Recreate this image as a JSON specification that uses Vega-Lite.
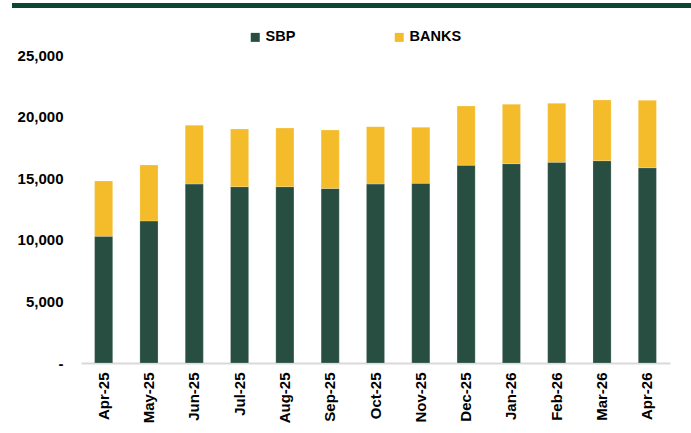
{
  "$schema": "https://vega.github.io/schema/vega-lite/v6.json",
  "width": 589,
  "height": 308,
  "autosize": "none",
  "padding": {"left": 81, "top": 55, "right": 21, "bottom": 70},
  "background": "white",
  "config": {"view": {"stroke": null}, "font": "Liberation Sans"},
  "data": {"values": [
    {"month": "Apr-25", "series": "SBP", "value": 10280},
    {"month": "May-25", "series": "SBP", "value": 11530},
    {"month": "Jun-25", "series": "SBP", "value": 14530},
    {"month": "Jul-25", "series": "SBP", "value": 14310},
    {"month": "Aug-25", "series": "SBP", "value": 14310},
    {"month": "Sep-25", "series": "SBP", "value": 14170},
    {"month": "Oct-25", "series": "SBP", "value": 14530},
    {"month": "Nov-25", "series": "SBP", "value": 14580},
    {"month": "Dec-25", "series": "SBP", "value": 16050},
    {"month": "Jan-26", "series": "SBP", "value": 16180},
    {"month": "Feb-26", "series": "SBP", "value": 16290},
    {"month": "Mar-26", "series": "SBP", "value": 16420},
    {"month": "Apr-26", "series": "SBP", "value": 15850},
    {"month": "Apr-25", "series": "BANKS", "value": 4490},
    {"month": "May-25", "series": "BANKS", "value": 4540},
    {"month": "Jun-25", "series": "BANKS", "value": 4760},
    {"month": "Jul-25", "series": "BANKS", "value": 4680},
    {"month": "Aug-25", "series": "BANKS", "value": 4760},
    {"month": "Sep-25", "series": "BANKS", "value": 4740},
    {"month": "Oct-25", "series": "BANKS", "value": 4650},
    {"month": "Nov-25", "series": "BANKS", "value": 4550},
    {"month": "Dec-25", "series": "BANKS", "value": 4810},
    {"month": "Jan-26", "series": "BANKS", "value": 4820},
    {"month": "Feb-26", "series": "BANKS", "value": 4790},
    {"month": "Mar-26", "series": "BANKS", "value": 4930},
    {"month": "Apr-26", "series": "BANKS", "value": 5470}
  ]},
  "layer": [
    {
      "transform": [{"calculate": "datum.series == 'SBP' ? 0 : 1", "as": "ord"}],
      "mark": {"type": "bar", "stroke": "#ffffff", "strokeOpacity": 0.35, "strokeWidth": 0.6},
      "encoding": {
        "x": {
          "field": "month", "type": "nominal", "sort": null,
          "scale": {"paddingInner": 0.6, "paddingOuter": 0.3},
          "axis": {
            "title": null, "labelAngle": -90, "labelFont": "Liberation Sans", "labelFontSize": 15,
            "labelFontWeight": "bold", "labelColor": "#000000", "labelPadding": 9,
            "ticks": false, "domainColor": "#d9d9d9", "domainWidth": 2
          }
        },
        "y": {
          "field": "value", "type": "quantitative", "stack": "zero",
          "scale": {"domain": [0, 25000], "nice": false},
          "axis": {
            "title": null, "values": [0, 5000, 10000, 15000, 20000, 25000],
            "labelExpr": "datum.value == 0 ? '-' : format(datum.value, ',')",
            "grid": false, "domain": false, "ticks": false, "labelPadding": 18,
            "labelFont": "Liberation Sans", "labelFontSize": 15, "labelFontWeight": "bold",
            "labelColor": "#000000"
          }
        },
        "color": {
          "field": "series", "type": "nominal",
          "scale": {"domain": ["SBP", "BANKS"], "range": ["#274e41", "#f4bc2a"]},
          "legend": {
            "title": null, "orient": "none", "direction": "horizontal",
            "legendX": 167, "legendY": -25,
            "symbolType": "square", "symbolSize": 81, "symbolStrokeWidth": 0,
            "labelFont": "Liberation Sans", "labelFontSize": 14.5, "labelFontWeight": "bold",
            "labelColor": "#000000", "labelOffset": 3, "columnPadding": 96
          }
        },
        "order": {"field": "ord", "type": "quantitative"}
      }
    },
    {
      "mark": {"type": "rule", "clip": false, "color": "#0e4632", "strokeWidth": 4, "strokeCap": "butt", "xOffset": -91.6, "x2Offset": 49},
      "encoding": {
        "x": {"datum": "Apr-25", "type": "nominal"},
        "x2": {"datum": "Apr-26"},
        "y": {"datum": 29020, "type": "quantitative"}
      }
    }
  ]
}
